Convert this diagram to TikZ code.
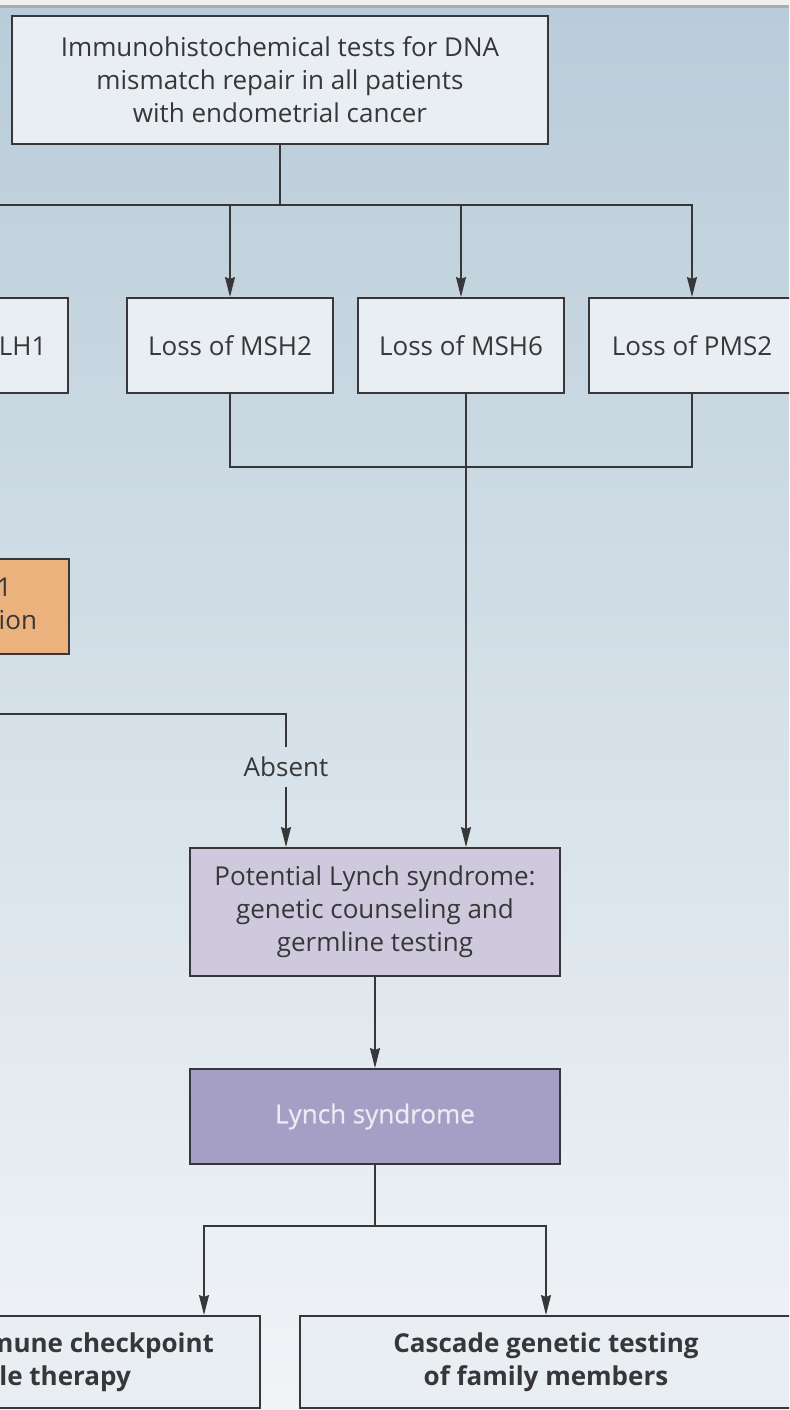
\documentclass[tikz,border=0pt]{standalone}
\usepackage{fontspec}
\setmainfont{Open Sans}
\newfontfamily\lynchfont[FakeBold=0.6]{Open Sans}
\usetikzlibrary{arrows.meta, positioning, calc}
\definecolor{cLine}{RGB}{55,55,58}
\definecolor{cBox}{RGB}{232,238,242}
\definecolor{cBgTop}{RGB}{185,204,217}
\definecolor{cBgBottom}{RGB}{241,244,247}
\definecolor{cOrange}{RGB}{235,178,125}
\definecolor{cLilac}{RGB}{207,201,221}
\definecolor{cPurple}{RGB}{166,159,197}
\definecolor{cPaleText}{RGB}{236,234,243}
\definecolor{cStrip}{RGB}{241,240,236}
\definecolor{cStripLine}{RGB}{167,174,178}
\tikzset{
	testbox/.style={rectangle, draw=cLine, line width=1pt, fill=cBox, text=cLine, align=center, text centered, inner sep=0pt, font=\fontsize{13}{16.5}\selectfont},
	lossbox/.style={testbox, minimum width=103pt, minimum height=47.5pt},
	methylbox/.style={testbox, fill=cOrange, minimum height=47.5pt, inner xsep=16pt},
	lynchbox/.style={testbox, minimum width=185pt},
	outcomebox/.style={testbox, minimum height=46pt, font=\fontsize{13}{16.5}\selectfont\bfseries},
	edgelabel/.style={text=cLine, font=\fontsize{13}{16.5}\selectfont, inner sep=0pt, minimum height=20pt},
	flowline/.style={draw=cLine, line width=0.75pt},
	flowarrow/.style={flowline, -{Stealth[length=10pt, width=5pt, inset=1pt]}},
}
\begin{document}
\begin{tikzpicture}[x=0.5pt, y=-0.5pt]
	\useasboundingbox (0,0) rectangle (789,1410);
	\clip (0,0) rectangle (789,1410);
	% page background
	\shade[top color=cBgTop, bottom color=cBgBottom] (0,7) rectangle (789,1410);
	\fill[cStrip] (0,0) rectangle (789,5);
	\fill[cStripLine] (0,5) rectangle (789,7.5);

	% boxes
	\node[testbox, minimum width=268pt, minimum height=64pt] (ihc) at (280,80)
		{Immunohistochemical tests for DNA\\mismatch repair in all patients\\with endometrial cancer};
	\node[lossbox] (msh2) at (230,345.5) {Loss of MSH2};
	\node[lossbox, right=11.5pt of msh2] (msh6) {Loss of MSH6};
	\node[lossbox, right=11.5pt of msh6] (pms2) {Loss of PMS2};
	\node[lossbox, left=28.5pt of msh2] (mlh1) {Loss of MLH1};
	\node[methylbox, anchor=east] (methyl) at (70,606.5) {Analysis for MLH1\\promoter methylation};
	\node[edgelabel] (absent) at (286,767) {Absent};
	\node[lynchbox, minimum height=64pt, fill=cLilac] (potential) at (375,912)
		{Potential Lynch syndrome:\\genetic counseling and\\germline testing};
	\node[lynchbox, minimum height=47.5pt, fill=cPurple, text=cPaleText, font=\fontsize{13}{16.5}\lynchfont, below=45.5pt of potential] (lynch) {Lynch syndrome};
	\node[outcomebox, minimum width=246pt] (cascade) at (546,1362) {Cascade genetic testing\\of family members};
	\node[outcomebox, anchor=east, inner xsep=23pt] (ici) at (261,1362) {Consider immune checkpoint\\possible therapy};

	% helper points
	\coordinate (split1) at ($(ihc.south)+(0,60)$);
	\coordinate (join) at (464,467);
	\coordinate (m6out) at ($(msh6.south)+(5,0)$);
	\coordinate (absturn) at (286,714);
	\coordinate (split2) at ($(lynch.south)+(0,61)$);
	\coordinate (leftdrop) at (204,1223);

	% connectors
	\draw[flowline] (ihc.south) -- (split1);
	\foreach \n in {mlh1,msh2,msh6,pms2}
		\draw[flowarrow] (split1) -| (\n.north);
	\draw[flowline] (msh2.south) |- (join) -| (pms2.south);
	\draw[flowarrow] (m6out) -- (m6out |- potential.north);
	\draw[flowline] (methyl.south) |- (absturn) -- (absent.north);
	\draw[flowarrow] (absent.south) -- (absent.south |- potential.north);
	\draw[flowarrow] (potential) -- (lynch);
	\draw[flowline] (lynch.south) -- (split2);
	\draw[flowarrow] (split2) -| (leftdrop |- ici.north);
	\draw[flowarrow] (split2) -| (cascade.north);
\end{tikzpicture}
\end{document}
